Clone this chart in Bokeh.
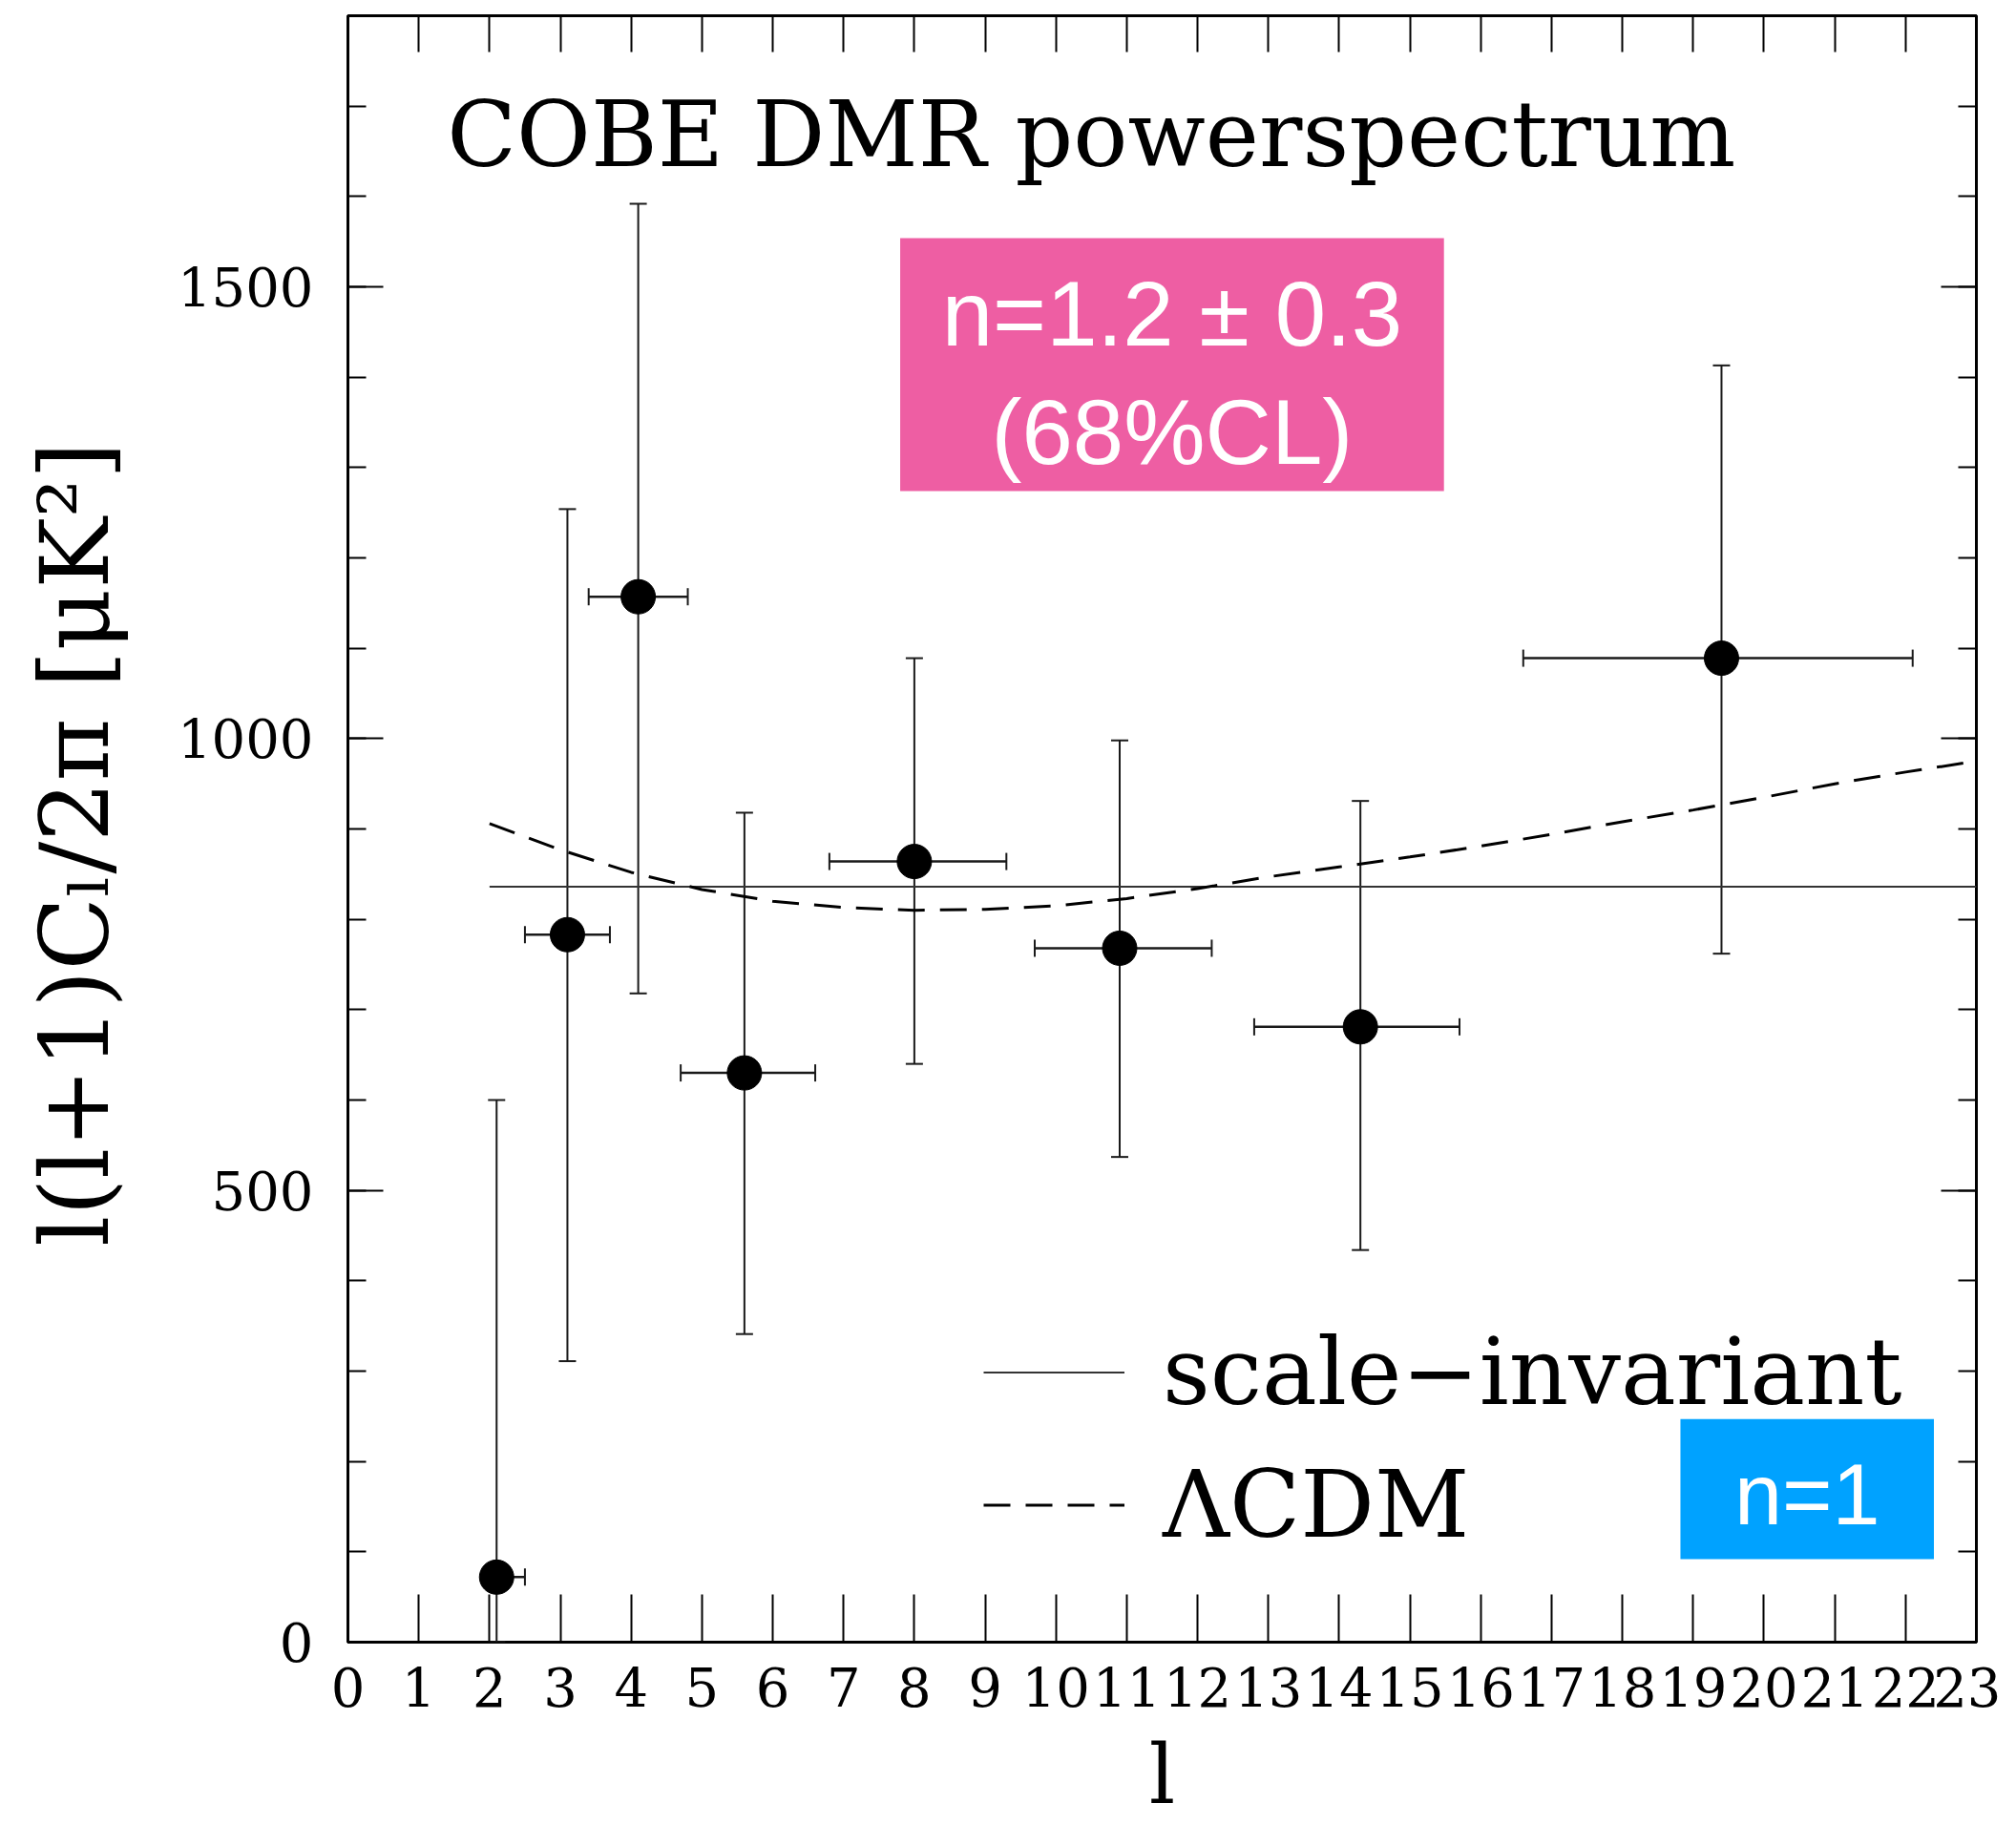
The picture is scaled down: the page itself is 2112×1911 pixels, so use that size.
from bokeh.plotting import figure
from bokeh.models import (LinearAxis, FixedTicker, Range1d, Whisker, TeeHead,
                          ColumnDataSource, Label, BoxAnnotation, Legend, LegendItem)
from bokeh.embed import file_html
from bokeh.resources import INLINE

# ---- data ----
ell = [2.1, 3.1, 4.1, 5.6, 8.0, 10.9, 14.3, 19.4]
cl = [72, 783, 1157, 630, 864, 768, 681, 1089]
cl_hi = [600, 1254, 1592, 918, 1089, 998, 931, 1413]
cl_lo = [0, 311, 718, 341, 640, 537, 434, 762]
ell_lo = [2.0, 2.5, 3.4, 4.7, 6.8, 9.7, 12.8, 16.6]
ell_hi = [2.5, 3.7, 4.8, 6.6, 9.3, 12.2, 15.7, 22.1]

si_ell = [2, 23]
si_val = [836, 836]

lcdm_ell = list(range(2, 24))
lcdm_val = [906, 877, 852, 833, 820, 813, 810, 811, 815, 823, 834, 847,
            858, 869, 881, 894, 908, 921, 935, 950, 963, 975]

x_ticks = list(range(0, 24))
y_ticks = [0, 500, 1000, 1500]
y_minor = list(range(0, 1801, 100))

SERIF = "DejaVu Serif"
SANS = "Liberation Sans"

p = figure(frame_width=1706, frame_height=1704,
           x_range=Range1d(0, 23), y_range=Range1d(0, 1800),
           output_backend="svg", toolbar_location=None,
           x_axis_location=None, y_axis_location=None,
           min_border_left=364, min_border_right=26, min_border_top=16,
           min_border_bottom=4)
p.grid.visible = False
p.outline_line_color = "black"
p.outline_line_width = 3
p.background_fill_color = "white"
p.border_fill_color = "white"


def style_axis(ax, tick_in, minor_in, labels=True):
    ax.major_tick_in = tick_in
    ax.major_tick_out = 0
    ax.minor_tick_in = minor_in
    ax.minor_tick_out = 0
    ax.major_tick_line_width = 2
    ax.minor_tick_line_width = 2
    ax.major_tick_line_color = "black"
    ax.minor_tick_line_color = "black" if minor_in else None
    ax.axis_line_color = None
    if labels:
        ax.major_label_text_font = SERIF
        ax.major_label_text_font_size = "56px"
        ax.major_label_text_color = "black"
    else:
        ax.major_label_text_font_size = "1px"
        ax.major_label_text_color = None
        ax.major_label_standoff = 0


# bottom
xb = LinearAxis(ticker=FixedTicker(ticks=x_ticks))
style_axis(xb, 50, 0)
xb.major_label_standoff = 26
xb.axis_label = "l"
xb.axis_label_text_font = SERIF
xb.axis_label_text_font_size = "86px"
xb.axis_label_text_font_style = "normal"
xb.axis_label_text_color = "black"
xb.axis_label_standoff = 18
p.add_layout(xb, "below")

# top
xt = LinearAxis(ticker=FixedTicker(ticks=x_ticks))
style_axis(xt, 38, 0, labels=False)
p.add_layout(xt, "above")

# left
yl = LinearAxis(ticker=FixedTicker(ticks=y_ticks, minor_ticks=y_minor))
style_axis(yl, 37, 19)
yl.major_label_standoff = 36
yl.axis_label = "l(l+1)Cₗ/2π  [μK²]"
yl.axis_label_text_font = SERIF
yl.axis_label_text_font_size = "100px"
yl.axis_label_text_font_style = "normal"
yl.axis_label_text_color = "black"
yl.axis_label_standoff = 46
p.add_layout(yl, "left")

# right
yr = LinearAxis(ticker=FixedTicker(ticks=y_ticks, minor_ticks=y_minor))
style_axis(yr, 37, 19, labels=False)
p.add_layout(yr, "right")

# ---- model curves ----
r_si = p.line(si_ell, si_val, line_width=2, line_color="#333333")
r_lc = p.line(lcdm_ell, lcdm_val, line_width=3, line_color="black", line_dash="28 16")

# ---- data points with error bars ----
src = ColumnDataSource(dict(ell=ell, cl=cl, cl_hi=cl_hi, cl_lo=cl_lo,
                            ell_lo=ell_lo, ell_hi=ell_hi))
vw = Whisker(base="ell", upper="cl_hi", lower="cl_lo", source=src,
             dimension="height", line_width=2, line_color="#1a1a1a",
             upper_head=TeeHead(size=18, line_width=2, line_color="#1a1a1a"),
             lower_head=TeeHead(size=18, line_width=2, line_color="#1a1a1a"))
hw = Whisker(base="cl", upper="ell_hi", lower="ell_lo", source=src,
             dimension="width", line_width=2.5, line_color="#1a1a1a",
             upper_head=TeeHead(size=18, line_width=2, line_color="#1a1a1a"),
             lower_head=TeeHead(size=18, line_width=2, line_color="#1a1a1a"))
p.add_layout(vw)
p.add_layout(hw)
p.scatter("ell", "cl", source=src, size=36, color="black")

# ---- legend ----
legend = Legend(items=[LegendItem(label="scale−invariant", renderers=[r_si]),
                       LegendItem(label="ΛCDM", renderers=[r_lc])],
                location=(666, 74), orientation="vertical",
                glyph_width=148, glyph_height=139, label_height=139,
                label_standoff=40, spacing=0, padding=0, margin=0,
                label_text_font=SERIF, label_text_font_size="97px",
                label_text_color="black",
                border_line_color=None, background_fill_alpha=0)
p.add_layout(legend)

# ---- title and annotation boxes ----
p.add_layout(Label(x=1.4, y=1668, text="COBE DMR powerspectrum",
                   text_font=SERIF, text_font_size="95px", text_color="black",
                   text_baseline="alphabetic", text_align="left"))

p.add_layout(BoxAnnotation(left=7.8, right=15.48, bottom=1274, top=1554,
                           fill_color="#EE5EA3", fill_alpha=1, line_color=None))
p.add_layout(Label(x=11.64, y=1470, text="n=1.2 ± 0.3", text_font=SANS,
                   text_font_size="96px", text_color="white",
                   text_align="center", text_baseline="middle"))
p.add_layout(Label(x=11.64, y=1339, text="(68%CL)", text_font=SANS,
                   text_font_size="96px", text_color="white",
                   text_align="center", text_baseline="middle"))

p.add_layout(BoxAnnotation(left=18.82, right=22.40, bottom=92, top=247,
                           fill_color="#00A2FF", fill_alpha=1, line_color=None))
p.add_layout(Label(x=20.61, y=163, text="n=1", text_font=SANS,
                   text_font_size="90px", text_color="white",
                   text_align="center", text_baseline="middle"))

open("out.html", "w").write(file_html(p, INLINE))
